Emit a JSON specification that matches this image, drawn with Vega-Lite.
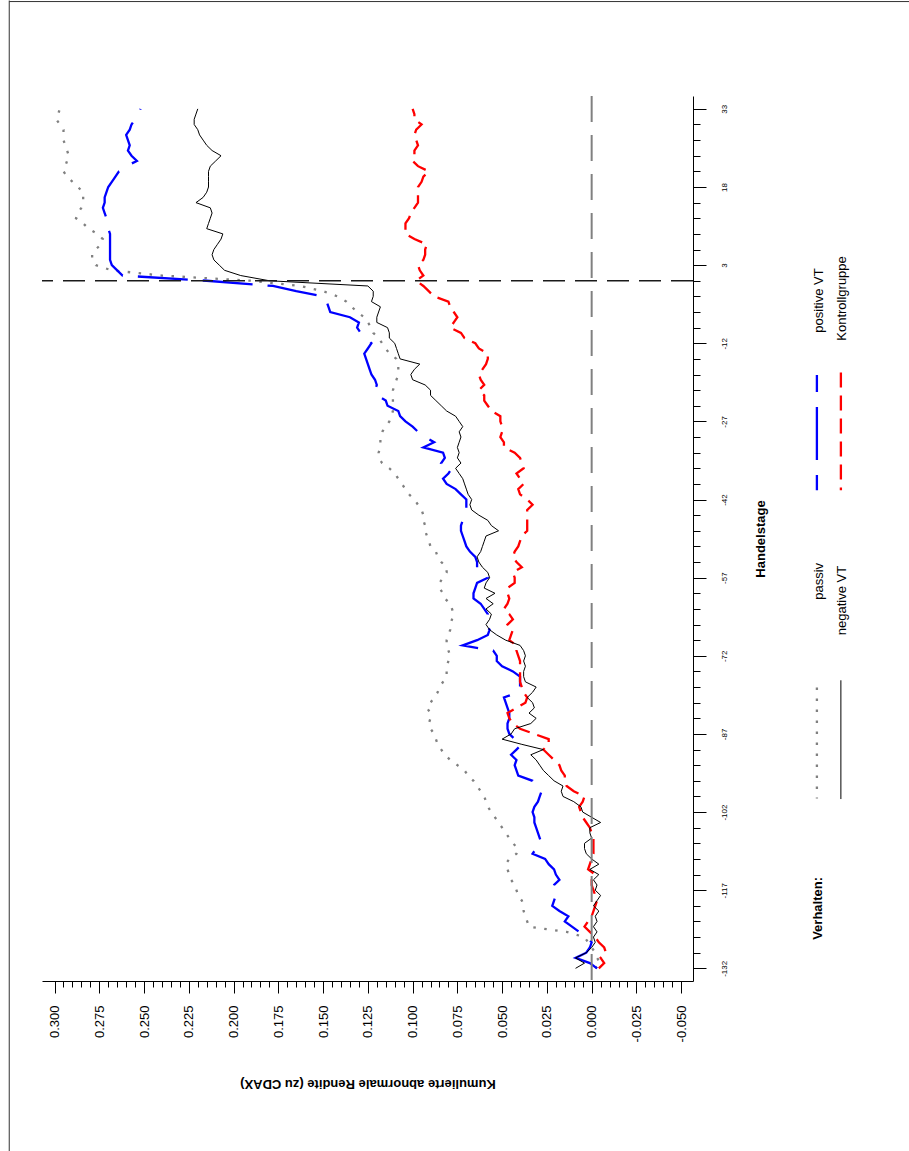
{
  "$schema": "https://vega.github.io/schema/vega-lite/v6.json",
  "width": 651,
  "height": 885,
  "autosize": "none",
  "padding": {"left": 42, "top": 96, "right": 216, "bottom": 170},
  "background": "white",
  "config": {"view": {"stroke": null}, "font": "Liberation Sans"},
  "layer": [
    {
      "data": {"values": [
        {"Tag":-132,"passiv":-0.002,"negative VT":0.009,"positive VT":-0.003,"Kontrollgruppe":-0.004},
        {"Tag":-131,"passiv":-0.005,"negative VT":0.004,"positive VT":0.001,"Kontrollgruppe":-0.007},
        {"Tag":-130,"passiv":-0.003,"negative VT":0.009,"positive VT":0.009,"Kontrollgruppe":-0.005},
        {"Tag":-129,"passiv":-0.002,"negative VT":0.003,"positive VT":0.003,"Kontrollgruppe":-0.008},
        {"Tag":-128,"passiv":0.000,"negative VT":0.000,"positive VT":0.001,"Kontrollgruppe":-0.007},
        {"Tag":-127,"passiv":0.002,"negative VT":-0.002,"positive VT":0.000,"Kontrollgruppe":-0.004},
        {"Tag":-126,"passiv":0.004,"negative VT":-0.001,"positive VT":0.003,"Kontrollgruppe":-0.002},
        {"Tag":-125,"passiv":0.014,"negative VT":-0.003,"positive VT":0.007,"Kontrollgruppe":0.001},
        {"Tag":-124,"passiv":0.035,"negative VT":-0.001,"positive VT":0.011,"Kontrollgruppe":0.004},
        {"Tag":-123,"passiv":0.036,"negative VT":-0.003,"positive VT":0.015,"Kontrollgruppe":0.002},
        {"Tag":-122,"passiv":0.037,"negative VT":-0.002,"positive VT":0.013,"Kontrollgruppe":0.000},
        {"Tag":-121,"passiv":0.038,"negative VT":-0.004,"positive VT":0.018,"Kontrollgruppe":-0.001},
        {"Tag":-120,"passiv":0.038,"negative VT":-0.001,"positive VT":0.022,"Kontrollgruppe":-0.002},
        {"Tag":-119,"passiv":0.039,"negative VT":-0.003,"positive VT":0.021,"Kontrollgruppe":-0.003},
        {"Tag":-118,"passiv":0.041,"negative VT":-0.005,"positive VT":0.020,"Kontrollgruppe":-0.002},
        {"Tag":-117,"passiv":0.042,"negative VT":-0.002,"positive VT":0.022,"Kontrollgruppe":-0.001},
        {"Tag":-116,"passiv":0.043,"negative VT":-0.003,"positive VT":0.021,"Kontrollgruppe":0.000},
        {"Tag":-115,"passiv":0.045,"negative VT":-0.001,"positive VT":0.018,"Kontrollgruppe":0.000},
        {"Tag":-114,"passiv":0.046,"negative VT":-0.004,"positive VT":0.020,"Kontrollgruppe":-0.002},
        {"Tag":-113,"passiv":0.047,"negative VT":0.001,"positive VT":0.021,"Kontrollgruppe":0.002},
        {"Tag":-112,"passiv":0.048,"negative VT":-0.004,"positive VT":0.024,"Kontrollgruppe":0.001},
        {"Tag":-111,"passiv":0.046,"negative VT":0.000,"positive VT":0.026,"Kontrollgruppe":0.000},
        {"Tag":-110,"passiv":0.042,"negative VT":0.003,"positive VT":0.033,"Kontrollgruppe":-0.001},
        {"Tag":-109,"passiv":0.041,"negative VT":0.004,"positive VT":0.031,"Kontrollgruppe":-0.001},
        {"Tag":-108,"passiv":0.044,"negative VT":0.004,"positive VT":0.028,"Kontrollgruppe":-0.001},
        {"Tag":-107,"passiv":0.046,"negative VT":0.000,"positive VT":0.029,"Kontrollgruppe":-0.001},
        {"Tag":-106,"passiv":0.048,"negative VT":0.001,"positive VT":0.030,"Kontrollgruppe":0.000},
        {"Tag":-105,"passiv":0.050,"negative VT":0.001,"positive VT":0.031,"Kontrollgruppe":0.001},
        {"Tag":-104,"passiv":0.052,"negative VT":-0.005,"positive VT":0.032,"Kontrollgruppe":0.003},
        {"Tag":-103,"passiv":0.054,"negative VT":0.000,"positive VT":0.032,"Kontrollgruppe":0.005},
        {"Tag":-102,"passiv":0.056,"negative VT":0.005,"positive VT":0.033,"Kontrollgruppe":0.006},
        {"Tag":-101,"passiv":0.058,"negative VT":0.006,"positive VT":0.032,"Kontrollgruppe":0.007},
        {"Tag":-100,"passiv":0.059,"negative VT":0.010,"positive VT":0.030,"Kontrollgruppe":0.005},
        {"Tag":-99,"passiv":0.060,"negative VT":0.016,"positive VT":0.029,"Kontrollgruppe":0.004},
        {"Tag":-98,"passiv":0.062,"negative VT":0.017,"positive VT":0.028,"Kontrollgruppe":0.010},
        {"Tag":-97,"passiv":0.064,"negative VT":0.016,"positive VT":0.031,"Kontrollgruppe":0.014},
        {"Tag":-96,"passiv":0.066,"negative VT":0.021,"positive VT":0.033,"Kontrollgruppe":0.015},
        {"Tag":-95,"passiv":0.069,"negative VT":0.024,"positive VT":0.041,"Kontrollgruppe":0.015},
        {"Tag":-94,"passiv":0.071,"negative VT":0.027,"positive VT":0.042,"Kontrollgruppe":0.017},
        {"Tag":-93,"passiv":0.075,"negative VT":0.029,"positive VT":0.043,"Kontrollgruppe":0.018},
        {"Tag":-92,"passiv":0.079,"negative VT":0.031,"positive VT":0.042,"Kontrollgruppe":0.021},
        {"Tag":-91,"passiv":0.082,"negative VT":0.034,"positive VT":0.045,"Kontrollgruppe":0.024},
        {"Tag":-90,"passiv":0.084,"negative VT":0.027,"positive VT":0.042,"Kontrollgruppe":0.027},
        {"Tag":-89,"passiv":0.086,"negative VT":0.039,"positive VT":0.039,"Kontrollgruppe":0.024},
        {"Tag":-88,"passiv":0.087,"negative VT":0.050,"positive VT":0.043,"Kontrollgruppe":0.024},
        {"Tag":-87,"passiv":0.088,"negative VT":0.045,"positive VT":0.046,"Kontrollgruppe":0.032},
        {"Tag":-86,"passiv":0.090,"negative VT":0.043,"positive VT":0.047,"Kontrollgruppe":0.040},
        {"Tag":-85,"passiv":0.091,"negative VT":0.034,"positive VT":0.047,"Kontrollgruppe":0.044},
        {"Tag":-84,"passiv":0.090,"negative VT":0.031,"positive VT":0.046,"Kontrollgruppe":0.046},
        {"Tag":-83,"passiv":0.090,"negative VT":0.035,"positive VT":0.046,"Kontrollgruppe":0.047},
        {"Tag":-82,"passiv":0.092,"negative VT":0.032,"positive VT":0.047,"Kontrollgruppe":0.042},
        {"Tag":-81,"passiv":0.090,"negative VT":0.033,"positive VT":0.048,"Kontrollgruppe":0.037},
        {"Tag":-80,"passiv":0.088,"negative VT":0.036,"positive VT":0.049,"Kontrollgruppe":0.036},
        {"Tag":-79,"passiv":0.086,"negative VT":0.033,"positive VT":0.041,"Kontrollgruppe":0.038},
        {"Tag":-78,"passiv":0.085,"negative VT":0.031,"positive VT":0.040,"Kontrollgruppe":0.039},
        {"Tag":-77,"passiv":0.083,"negative VT":0.037,"positive VT":0.040,"Kontrollgruppe":0.040},
        {"Tag":-76,"passiv":0.081,"negative VT":0.038,"positive VT":0.040,"Kontrollgruppe":0.040},
        {"Tag":-75,"passiv":0.081,"negative VT":0.038,"positive VT":0.044,"Kontrollgruppe":0.040},
        {"Tag":-74,"passiv":0.081,"negative VT":0.037,"positive VT":0.050,"Kontrollgruppe":0.040},
        {"Tag":-73,"passiv":0.080,"negative VT":0.038,"positive VT":0.053,"Kontrollgruppe":0.040},
        {"Tag":-72,"passiv":0.079,"negative VT":0.037,"positive VT":0.053,"Kontrollgruppe":0.041},
        {"Tag":-71,"passiv":0.080,"negative VT":0.038,"positive VT":0.055,"Kontrollgruppe":0.042},
        {"Tag":-70,"passiv":0.081,"negative VT":0.040,"positive VT":0.072,"Kontrollgruppe":0.042},
        {"Tag":-69,"passiv":0.081,"negative VT":0.048,"positive VT":0.064,"Kontrollgruppe":0.046},
        {"Tag":-68,"passiv":0.080,"negative VT":0.053,"positive VT":0.058,"Kontrollgruppe":0.045},
        {"Tag":-67,"passiv":0.079,"negative VT":0.057,"positive VT":0.057,"Kontrollgruppe":0.044},
        {"Tag":-66,"passiv":0.079,"negative VT":0.059,"positive VT":0.059,"Kontrollgruppe":0.047},
        {"Tag":-65,"passiv":0.078,"negative VT":0.057,"positive VT":0.059,"Kontrollgruppe":0.044},
        {"Tag":-64,"passiv":0.077,"negative VT":0.056,"positive VT":0.058,"Kontrollgruppe":0.046},
        {"Tag":-63,"passiv":0.078,"negative VT":0.059,"positive VT":0.060,"Kontrollgruppe":0.049},
        {"Tag":-62,"passiv":0.079,"negative VT":0.055,"positive VT":0.062,"Kontrollgruppe":0.047},
        {"Tag":-61,"passiv":0.082,"negative VT":0.059,"positive VT":0.066,"Kontrollgruppe":0.046},
        {"Tag":-60,"passiv":0.083,"negative VT":0.054,"positive VT":0.066,"Kontrollgruppe":0.047},
        {"Tag":-59,"passiv":0.085,"negative VT":0.060,"positive VT":0.065,"Kontrollgruppe":0.047},
        {"Tag":-58,"passiv":0.085,"negative VT":0.059,"positive VT":0.064,"Kontrollgruppe":0.043},
        {"Tag":-57,"passiv":0.083,"negative VT":0.057,"positive VT":0.058,"Kontrollgruppe":0.043},
        {"Tag":-56,"passiv":0.081,"negative VT":0.058,"positive VT":0.061,"Kontrollgruppe":0.044},
        {"Tag":-55,"passiv":0.081,"negative VT":0.061,"positive VT":0.064,"Kontrollgruppe":0.039},
        {"Tag":-54,"passiv":0.084,"negative VT":0.063,"positive VT":0.064,"Kontrollgruppe":0.042},
        {"Tag":-53,"passiv":0.086,"negative VT":0.064,"positive VT":0.065,"Kontrollgruppe":0.044},
        {"Tag":-52,"passiv":0.087,"negative VT":0.062,"positive VT":0.068,"Kontrollgruppe":0.043},
        {"Tag":-51,"passiv":0.090,"negative VT":0.061,"positive VT":0.070,"Kontrollgruppe":0.041},
        {"Tag":-50,"passiv":0.091,"negative VT":0.060,"positive VT":0.071,"Kontrollgruppe":0.040},
        {"Tag":-49,"passiv":0.092,"negative VT":0.059,"positive VT":0.072,"Kontrollgruppe":0.039},
        {"Tag":-48,"passiv":0.093,"negative VT":0.052,"positive VT":0.073,"Kontrollgruppe":0.036},
        {"Tag":-47,"passiv":0.093,"negative VT":0.056,"positive VT":0.073,"Kontrollgruppe":0.036},
        {"Tag":-46,"passiv":0.094,"negative VT":0.058,"positive VT":0.072,"Kontrollgruppe":0.036},
        {"Tag":-45,"passiv":0.094,"negative VT":0.063,"positive VT":0.071,"Kontrollgruppe":0.036},
        {"Tag":-44,"passiv":0.095,"negative VT":0.067,"positive VT":0.070,"Kontrollgruppe":0.036},
        {"Tag":-43,"passiv":0.097,"negative VT":0.068,"positive VT":0.070,"Kontrollgruppe":0.033},
        {"Tag":-42,"passiv":0.099,"negative VT":0.067,"positive VT":0.070,"Kontrollgruppe":0.036},
        {"Tag":-41,"passiv":0.102,"negative VT":0.069,"positive VT":0.073,"Kontrollgruppe":0.040},
        {"Tag":-40,"passiv":0.104,"negative VT":0.070,"positive VT":0.076,"Kontrollgruppe":0.041},
        {"Tag":-39,"passiv":0.106,"negative VT":0.071,"positive VT":0.081,"Kontrollgruppe":0.038},
        {"Tag":-38,"passiv":0.108,"negative VT":0.072,"positive VT":0.083,"Kontrollgruppe":0.040},
        {"Tag":-37,"passiv":0.110,"negative VT":0.074,"positive VT":0.080,"Kontrollgruppe":0.042},
        {"Tag":-36,"passiv":0.113,"negative VT":0.076,"positive VT":0.078,"Kontrollgruppe":0.038},
        {"Tag":-35,"passiv":0.117,"negative VT":0.073,"positive VT":0.084,"Kontrollgruppe":0.039},
        {"Tag":-34,"passiv":0.119,"negative VT":0.075,"positive VT":0.082,"Kontrollgruppe":0.040},
        {"Tag":-33,"passiv":0.119,"negative VT":0.074,"positive VT":0.083,"Kontrollgruppe":0.043},
        {"Tag":-32,"passiv":0.118,"negative VT":0.075,"positive VT":0.094,"Kontrollgruppe":0.049},
        {"Tag":-31,"passiv":0.118,"negative VT":0.074,"positive VT":0.088,"Kontrollgruppe":0.049},
        {"Tag":-30,"passiv":0.118,"negative VT":0.073,"positive VT":0.093,"Kontrollgruppe":0.051},
        {"Tag":-29,"passiv":0.117,"negative VT":0.074,"positive VT":0.097,"Kontrollgruppe":0.050},
        {"Tag":-28,"passiv":0.115,"negative VT":0.072,"positive VT":0.100,"Kontrollgruppe":0.050},
        {"Tag":-27,"passiv":0.113,"negative VT":0.074,"positive VT":0.104,"Kontrollgruppe":0.051},
        {"Tag":-26,"passiv":0.112,"negative VT":0.076,"positive VT":0.107,"Kontrollgruppe":0.051},
        {"Tag":-25,"passiv":0.111,"negative VT":0.081,"positive VT":0.108,"Kontrollgruppe":0.056},
        {"Tag":-24,"passiv":0.111,"negative VT":0.084,"positive VT":0.114,"Kontrollgruppe":0.058},
        {"Tag":-23,"passiv":0.111,"negative VT":0.087,"positive VT":0.115,"Kontrollgruppe":0.060},
        {"Tag":-22,"passiv":0.111,"negative VT":0.090,"positive VT":0.120,"Kontrollgruppe":0.060},
        {"Tag":-21,"passiv":0.111,"negative VT":0.090,"positive VT":0.121,"Kontrollgruppe":0.063},
        {"Tag":-20,"passiv":0.110,"negative VT":0.093,"positive VT":0.120,"Kontrollgruppe":0.060},
        {"Tag":-19,"passiv":0.109,"negative VT":0.100,"positive VT":0.121,"Kontrollgruppe":0.062},
        {"Tag":-18,"passiv":0.108,"negative VT":0.101,"positive VT":0.123,"Kontrollgruppe":0.063},
        {"Tag":-17,"passiv":0.108,"negative VT":0.099,"positive VT":0.124,"Kontrollgruppe":0.061},
        {"Tag":-16,"passiv":0.108,"negative VT":0.096,"positive VT":0.125,"Kontrollgruppe":0.059},
        {"Tag":-15,"passiv":0.109,"negative VT":0.107,"positive VT":0.126,"Kontrollgruppe":0.058},
        {"Tag":-14,"passiv":0.113,"negative VT":0.108,"positive VT":0.127,"Kontrollgruppe":0.058},
        {"Tag":-13,"passiv":0.115,"negative VT":0.109,"positive VT":0.125,"Kontrollgruppe":0.063},
        {"Tag":-12,"passiv":0.117,"negative VT":0.110,"positive VT":0.123,"Kontrollgruppe":0.065},
        {"Tag":-11,"passiv":0.119,"negative VT":0.113,"positive VT":0.126,"Kontrollgruppe":0.071},
        {"Tag":-10,"passiv":0.122,"negative VT":0.113,"positive VT":0.129,"Kontrollgruppe":0.073},
        {"Tag":-9,"passiv":0.123,"negative VT":0.114,"positive VT":0.131,"Kontrollgruppe":0.079},
        {"Tag":-8,"passiv":0.125,"negative VT":0.120,"positive VT":0.130,"Kontrollgruppe":0.077},
        {"Tag":-7,"passiv":0.127,"negative VT":0.120,"positive VT":0.135,"Kontrollgruppe":0.075},
        {"Tag":-6,"passiv":0.131,"negative VT":0.119,"positive VT":0.146,"Kontrollgruppe":0.077},
        {"Tag":-5,"passiv":0.134,"negative VT":0.118,"positive VT":0.147,"Kontrollgruppe":0.079},
        {"Tag":-4,"passiv":0.137,"negative VT":0.123,"positive VT":0.148,"Kontrollgruppe":0.080},
        {"Tag":-3,"passiv":0.142,"negative VT":0.122,"positive VT":0.150,"Kontrollgruppe":0.088},
        {"Tag":-2,"passiv":0.150,"negative VT":0.122,"positive VT":0.165,"Kontrollgruppe":0.091},
        {"Tag":-1,"passiv":0.163,"negative VT":0.125,"positive VT":0.178,"Kontrollgruppe":0.094},
        {"Tag":0,"passiv":0.190,"negative VT":0.180,"positive VT":0.215,"Kontrollgruppe":0.098},
        {"Tag":1,"passiv":0.240,"negative VT":0.196,"positive VT":0.262,"Kontrollgruppe":0.094},
        {"Tag":2,"passiv":0.268,"negative VT":0.205,"positive VT":0.265,"Kontrollgruppe":0.096},
        {"Tag":3,"passiv":0.277,"negative VT":0.208,"positive VT":0.268,"Kontrollgruppe":0.097},
        {"Tag":4,"passiv":0.279,"negative VT":0.211,"positive VT":0.269,"Kontrollgruppe":0.094},
        {"Tag":5,"passiv":0.279,"negative VT":0.212,"positive VT":0.269,"Kontrollgruppe":0.093},
        {"Tag":6,"passiv":0.277,"negative VT":0.211,"positive VT":0.269,"Kontrollgruppe":0.093},
        {"Tag":7,"passiv":0.274,"negative VT":0.209,"positive VT":0.269,"Kontrollgruppe":0.092},
        {"Tag":8,"passiv":0.273,"negative VT":0.207,"positive VT":0.269,"Kontrollgruppe":0.099},
        {"Tag":9,"passiv":0.276,"negative VT":0.206,"positive VT":0.269,"Kontrollgruppe":0.104},
        {"Tag":10,"passiv":0.281,"negative VT":0.215,"positive VT":0.270,"Kontrollgruppe":0.104},
        {"Tag":11,"passiv":0.284,"negative VT":0.214,"positive VT":0.270,"Kontrollgruppe":0.104},
        {"Tag":12,"passiv":0.288,"negative VT":0.213,"positive VT":0.271,"Kontrollgruppe":0.102},
        {"Tag":13,"passiv":0.287,"negative VT":0.212,"positive VT":0.272,"Kontrollgruppe":0.101},
        {"Tag":14,"passiv":0.285,"negative VT":0.213,"positive VT":0.273,"Kontrollgruppe":0.099},
        {"Tag":15,"passiv":0.284,"negative VT":0.221,"positive VT":0.272,"Kontrollgruppe":0.097},
        {"Tag":16,"passiv":0.284,"negative VT":0.217,"positive VT":0.272,"Kontrollgruppe":0.097},
        {"Tag":17,"passiv":0.284,"negative VT":0.215,"positive VT":0.271,"Kontrollgruppe":0.097},
        {"Tag":18,"passiv":0.287,"negative VT":0.214,"positive VT":0.270,"Kontrollgruppe":0.097},
        {"Tag":19,"passiv":0.290,"negative VT":0.214,"positive VT":0.268,"Kontrollgruppe":0.095},
        {"Tag":20,"passiv":0.293,"negative VT":0.214,"positive VT":0.266,"Kontrollgruppe":0.094},
        {"Tag":21,"passiv":0.295,"negative VT":0.214,"positive VT":0.264,"Kontrollgruppe":0.091},
        {"Tag":22,"passiv":0.294,"negative VT":0.213,"positive VT":0.260,"Kontrollgruppe":0.097},
        {"Tag":23,"passiv":0.293,"negative VT":0.210,"positive VT":0.254,"Kontrollgruppe":0.100},
        {"Tag":24,"passiv":0.292,"negative VT":0.207,"positive VT":0.257,"Kontrollgruppe":0.099},
        {"Tag":25,"passiv":0.293,"negative VT":0.212,"positive VT":0.259,"Kontrollgruppe":0.099},
        {"Tag":26,"passiv":0.294,"negative VT":0.215,"positive VT":0.258,"Kontrollgruppe":0.097},
        {"Tag":27,"passiv":0.295,"negative VT":0.217,"positive VT":0.259,"Kontrollgruppe":0.098},
        {"Tag":28,"passiv":0.295,"negative VT":0.219,"positive VT":0.260,"Kontrollgruppe":0.099},
        {"Tag":29,"passiv":0.295,"negative VT":0.220,"positive VT":0.258,"Kontrollgruppe":0.098},
        {"Tag":30,"passiv":0.297,"negative VT":0.222,"positive VT":0.257,"Kontrollgruppe":0.095},
        {"Tag":31,"passiv":0.299,"negative VT":0.222,"positive VT":0.255,"Kontrollgruppe":0.099},
        {"Tag":32,"passiv":0.298,"negative VT":0.221,"positive VT":0.253,"Kontrollgruppe":0.099},
        {"Tag":33,"passiv":0.297,"negative VT":0.220,"positive VT":0.252,"Kontrollgruppe":0.100}
      ]},
      "transform": [{"fold": ["passiv", "negative VT", "positive VT", "Kontrollgruppe"], "as": ["Verhalten", "Rendite"]}],
      "encoding": {
        "x": {
          "field": "Rendite", "type": "quantitative",
          "scale": {"domain": [-0.0566, 0.307], "reverse": true, "nice": false, "zero": false},
          "axis": {
            "orient": "bottom",
            "values": [-0.05,-0.045,-0.04,-0.035,-0.03,-0.025,-0.02,-0.015,-0.01,-0.005,0,0.005,0.01,0.015,0.02,0.025,0.03,0.035,0.04,0.045,0.05,0.055,0.06,0.065,0.07,0.075,0.08,0.085,0.09,0.095,0.1,0.105,0.11,0.115,0.12,0.125,0.13,0.135,0.14,0.145,0.15,0.155,0.16,0.165,0.17,0.175,0.18,0.185,0.19,0.195,0.2,0.205,0.21,0.215,0.22,0.225,0.23,0.235,0.24,0.245,0.25,0.255,0.26,0.265,0.27,0.275,0.28,0.285,0.29,0.295,0.3],
            "tickCount": 1000,
            "tickSize": {"condition": {"test": "abs(round(datum.value*1000)) % 25 == 0", "value": 12}, "value": 6},
            "labelExpr": "abs(round(datum.value*1000)) % 25 == 0 ? (datum.value < 0 ? '-' : '') + format(abs(datum.value), '.3f') : ''",
            "labelAngle": 270, "labelAlign": "right", "labelBaseline": "middle", "labelPadding": 12,
            "labelFontSize": 13, "labelFont": "Liberation Sans", "labelColor": "black",
            "labelOverlap": false, "labelFlush": false, "labelBound": false,
            "domainColor": "black", "domainWidth": 1, "tickColor": "black", "tickWidth": 1, "grid": false,
            "title": "Kumulierte abnormale Rendite (zu CDAX)", "titleAngle": 180, "titleFontSize": 13,
            "titleFontWeight": "bold", "titleFont": "Liberation Sans", "titleColor": "black",
            "titleBaseline": "middle", "titleAlign": "center", "titleY": 102
          }
        },
        "y": {
          "field": "Tag", "type": "quantitative",
          "scale": {"domain": [-134.43, 35.47], "nice": false, "zero": false},
          "axis": {
            "orient": "right",
            "values": [-132,-129,-126,-123,-120,-117,-114,-111,-108,-105,-102,-99,-96,-93,-90,-87,-84,-81,-78,-75,-72,-69,-66,-63,-60,-57,-54,-51,-48,-45,-42,-39,-36,-33,-30,-27,-24,-21,-18,-15,-12,-9,-6,-3,0,3,6,9,12,15,18,21,24,27,30,33],
            "tickCount": 1000,
            "tickSize": {"condition": {"test": "(datum.value + 132) % 15 == 0", "value": 13}, "value": 7},
            "labelExpr": "(datum.value + 132) % 15 == 0 ? (datum.value < 0 ? '-' : '') + abs(datum.value) : ''",
            "labelAngle": 270, "labelAlign": "center", "labelBaseline": "middle", "labelPadding": 18,
            "labelFontSize": 8, "labelFont": "Liberation Sans", "labelColor": "black",
            "labelOverlap": false, "labelFlush": false, "labelBound": false,
            "domainColor": "black", "domainWidth": 1, "tickColor": "black", "tickWidth": 1, "grid": false,
            "title": "Handelstage", "titleAngle": 270, "titleFontSize": 13, "titleFontWeight": "bold",
            "titleFont": "Liberation Sans", "titleColor": "black", "titleBaseline": "middle",
            "titleAlign": "center", "titleX": 67
          }
        },
        "order": {"field": "Tag", "type": "quantitative"}
      },
      "layer": [
        {
          "transform": [{"filter": "datum.Verhalten == 'passiv'"}],
          "mark": {"type": "line", "color": "#808080", "strokeWidth": 2.3, "strokeDash": [2.5, 8.5], "strokeCap": "butt"}
        },
        {
          "transform": [{"filter": "datum.Verhalten == 'positive VT'"}],
          "mark": {"type": "line", "color": "#0000ff", "strokeWidth": 2.3, "strokeDash": [50, 15], "strokeCap": "butt"}
        },
        {
          "transform": [{"filter": "datum.Verhalten == 'Kontrollgruppe'"}],
          "mark": {"type": "line", "color": "#ff0000", "strokeWidth": 2.3, "strokeDash": [15, 8], "strokeCap": "butt"}
        },
        {
          "transform": [{"filter": "datum.Verhalten == 'negative VT'"}],
          "mark": {"type": "line", "color": "#000000", "strokeWidth": 1}
        }
      ]
    },
    {
      "data": {"values": [{}]},
      "layer": [
        {
          "mark": {"type": "rule", "color": "#1a1a1a", "strokeWidth": 1.3, "strokeDash": [22, 10]},
          "encoding": {"y": {"datum": 0}}
        },
        {
          "mark": {"type": "rule", "color": "#808080", "strokeWidth": 2, "strokeDash": [26, 13]},
          "encoding": {"x": {"datum": 0}}
        },
        {
          "mark": {"type": "rule", "color": "#808080", "strokeWidth": 2.3, "strokeDash": [2.5, 8.5]},
          "encoding": {"x": {"datum": -0.1258}, "y": {"datum": -78.1}, "y2": {"datum": -99.4}}
        },
        {
          "mark": {"type": "rule", "color": "#0000ff", "strokeWidth": 2.3, "strokeDash": [53, 15], "strokeDashOffset": 36},
          "encoding": {"x": {"datum": -0.1258}, "y": {"datum": -18.1}, "y2": {"datum": -40.2}}
        },
        {
          "mark": {"type": "rule", "color": "#000000", "strokeWidth": 1},
          "encoding": {"x": {"datum": -0.1392}, "y": {"datum": -76.7}, "y2": {"datum": -99.5}}
        },
        {
          "mark": {"type": "rule", "color": "#ff0000", "strokeWidth": 2.3, "strokeDash": [15, 8]},
          "encoding": {"x": {"datum": -0.1392}, "y": {"datum": -17.6}, "y2": {"datum": -40.2}}
        },
        {
          "mark": {"type": "text", "angle": 270, "align": "center", "baseline": "middle", "fontSize": 13, "font": "Liberation Sans", "fontWeight": "bold", "color": "black"},
          "encoding": {"x": {"datum": -0.1264}, "y": {"datum": -120.5}, "text": {"value": "Verhalten:"}}
        },
        {
          "mark": {"type": "text", "angle": 270, "align": "center", "baseline": "middle", "fontSize": 13, "font": "Liberation Sans", "fontWeight": "normal", "color": "black"},
          "encoding": {"x": {"datum": -0.127}, "y": {"datum": -57.7}, "text": {"value": "passiv"}}
        },
        {
          "mark": {"type": "text", "angle": 270, "align": "center", "baseline": "middle", "fontSize": 13, "font": "Liberation Sans", "fontWeight": "normal", "color": "black"},
          "encoding": {"x": {"datum": -0.127}, "y": {"datum": -3.8}, "text": {"value": "positive VT"}}
        },
        {
          "mark": {"type": "text", "angle": 270, "align": "center", "baseline": "middle", "fontSize": 13, "font": "Liberation Sans", "fontWeight": "normal", "color": "black"},
          "encoding": {"x": {"datum": -0.140}, "y": {"datum": -61.4}, "text": {"value": "negative VT"}}
        },
        {
          "mark": {"type": "text", "angle": 270, "align": "center", "baseline": "middle", "fontSize": 13, "font": "Liberation Sans", "fontWeight": "normal", "color": "black"},
          "encoding": {"x": {"datum": -0.140}, "y": {"datum": -3.4}, "text": {"value": "Kontrollgruppe"}}
        },
        {
          "mark": {"type": "rule", "color": "#333333", "strokeWidth": 1},
          "encoding": {"x": {"datum": 0.3253}, "y": {"datum": 53.8}, "y2": {"datum": -167.1}}
        },
        {
          "mark": {"type": "rule", "color": "#333333", "strokeWidth": 1},
          "encoding": {"x": {"datum": 0.3253}, "x2": {"datum": -0.18}, "y": {"datum": 53.6}}
        }
      ]
    }
  ]
}
